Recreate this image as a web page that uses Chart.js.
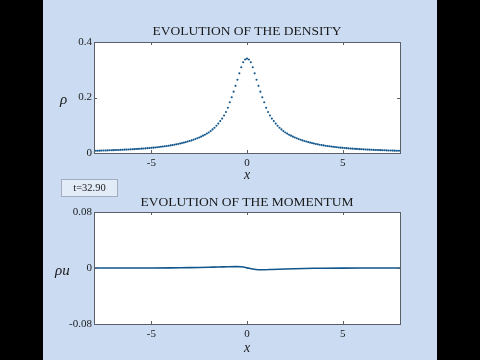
<!DOCTYPE html>
<html>
<head>
<meta charset="utf-8">
<script src="https://cdn.jsdelivr.net/npm/chart.js@4/dist/chart.umd.min.js"></script>
<style>
body { margin:0; background:#000; width:480px; height:360px; overflow:hidden; }
#fig { position:absolute; left:43px; top:0; width:394px; height:360px; background:#cbdcf2; font-family:"Liberation Serif", serif; color:#1a1a1a; }
canvas { position:absolute; left:0; }
.ttl { position:absolute; left:51px; width:306px; text-align:center; font-size:13.5px; line-height:16px; white-space:nowrap; }
.ylab { position:absolute; font-style:italic; font-size:15px; line-height:16px; }
#tbox { position:absolute; left:18px; top:179px; width:55px; height:16px; border:1px solid #a3adbd; background:#e2ebf8; font-size:10.5px; line-height:16px; text-align:center; }
</style>
</head>
<body>
<div id="fig">
  <canvas id="dens" width="394" height="185" style="top:0"></canvas>
  <canvas id="mom" width="394" height="180" style="top:180px"></canvas>
  <div class="ttl" style="top:23px">EVOLUTION OF THE DENSITY</div>
  <div class="ttl" style="top:194px">EVOLUTION OF THE MOMENTUM</div>
  <div class="ylab" style="left:17px;top:91px">ρ</div>
  <div class="ylab" style="left:12px;top:262px">ρu</div>
  <div id="tbox">t=32.90</div>
</div>
<script>
// density samples, x = -8 .. 8
const densX = [
  -8.0,-7.9,-7.8,-7.7,-7.6,-7.5,-7.4,-7.3,-7.2,-7.1,
  -7.0,-6.9,-6.8,-6.7,-6.6,-6.5,-6.4,-6.3,-6.2,-6.1,
  -6.0,-5.9,-5.8,-5.7,-5.6,-5.5,-5.4,-5.3,-5.2,-5.1,
  -5.0,-4.9,-4.8,-4.7,-4.6,-4.5,-4.4,-4.3,-4.2,-4.1,
  -4.0,-3.9,-3.8,-3.7,-3.6,-3.5,-3.4,-3.3,-3.2,-3.1,
  -3.0,-2.9,-2.8,-2.7,-2.6,-2.5,-2.4,-2.3,-2.2,-2.1,
  -2.0,-1.9,-1.8,-1.7,-1.6,-1.5,-1.4,-1.3,-1.2,-1.1,
  -1.0,-0.9,-0.8,-0.7,-0.6,-0.5,-0.4,-0.3,-0.2,-0.1,
  0.0,
  0.1,0.2,0.3,0.4,0.5,0.6,0.7,0.8,0.9,1.0,
  1.1,1.2,1.3,1.4,1.5,1.6,1.7,1.8,1.9,2.0,
  2.1,2.2,2.3,2.4,2.5,2.6,2.7,2.8,2.9,3.0,
  3.1,3.2,3.3,3.4,3.5,3.6,3.7,3.8,3.9,4.0,
  4.1,4.2,4.3,4.4,4.5,4.6,4.7,4.8,4.9,5.0,
  5.1,5.2,5.3,5.4,5.5,5.6,5.7,5.8,5.9,6.0,
  6.1,6.2,6.3,6.4,6.5,6.6,6.7,6.8,6.9,7.0,
  7.1,7.2,7.3,7.4,7.5,7.6,7.7,7.8,7.9,8.0
];
const densY = [
  0.0080,0.0081,0.0083,0.0085,0.0087,0.0090,0.0092,0.0094,0.0097,0.0099,
  0.0102,0.0104,0.0107,0.0110,0.0113,0.0117,0.0120,0.0123,0.0127,0.0131,
  0.0135,0.0139,0.0143,0.0148,0.0152,0.0157,0.0163,0.0168,0.0174,0.0180,
  0.0186,0.0193,0.0200,0.0208,0.0215,0.0224,0.0233,0.0242,0.0252,0.0262,
  0.0273,0.0285,0.0298,0.0311,0.0325,0.0341,0.0357,0.0375,0.0393,0.0414,
  0.0432,0.0454,0.0477,0.0502,0.0530,0.0560,0.0590,0.0625,0.0660,0.0700,
  0.0740,0.0790,0.0850,0.0910,0.0980,0.1060,0.1150,0.1240,0.1350,0.1480,
  0.1630,0.1830,0.2010,0.2210,0.2420,0.2640,0.2870,0.3090,0.3270,0.3370,
  0.3400,
  0.3370,0.3270,0.3090,0.2870,0.2640,0.2420,0.2210,0.2010,0.1830,0.1630,
  0.1480,0.1350,0.1240,0.1150,0.1060,0.0980,0.0910,0.0850,0.0790,0.0740,
  0.0700,0.0660,0.0625,0.0590,0.0560,0.0530,0.0502,0.0477,0.0454,0.0432,
  0.0414,0.0393,0.0375,0.0357,0.0341,0.0325,0.0311,0.0298,0.0285,0.0273,
  0.0262,0.0252,0.0242,0.0233,0.0224,0.0215,0.0208,0.0200,0.0193,0.0186,
  0.0180,0.0174,0.0168,0.0163,0.0157,0.0152,0.0148,0.0143,0.0139,0.0135,
  0.0131,0.0127,0.0123,0.0120,0.0117,0.0113,0.0110,0.0107,0.0104,0.0102,
  0.0099,0.0097,0.0094,0.0092,0.0090,0.0087,0.0085,0.0083,0.0081,0.0080
];
// momentum samples
const momX = [-8,-6,-4,-3,-2,-1.5,-1,-0.6,-0.3,0,0.3,0.6,0.9,1.3,2,3,4,6,8];
const momY = [0,0,0.0002,0.0005,0.001,0.0014,0.0018,0.002,0.0017,0.0002,-0.0015,-0.0024,-0.0025,-0.0021,-0.0014,-0.0007,-0.0003,-0.0001,0];

const xTicks = [-5, 0, 5];
const densTicks = [0, 0.2, 0.4];
const momTicks = [-0.08, 0, 0.08];

const lineColor = '#11568c';
const axisColor = '#5b6068';

const framePlugin = {
  id: 'frame',
  beforeDraw(chart) {
    const a = chart.chartArea, ctx = chart.ctx;
    ctx.save();
    ctx.fillStyle = '#ffffff';
    ctx.fillRect(a.left, a.top, a.right - a.left, a.bottom - a.top);
    ctx.restore();
  },
  afterDraw(chart) {
    const a = chart.chartArea, ctx = chart.ctx;
    const xs = chart.scales.x, ys = chart.scales.y;
    ctx.save();
    ctx.strokeStyle = axisColor;
    ctx.lineWidth = 1;
    ctx.strokeRect(Math.round(a.left) + 0.5, Math.round(a.top) + 0.5,
                   Math.round(a.right - a.left), Math.round(a.bottom - a.top));
    ctx.beginPath();
    xTicks.forEach(v => {
      const px = Math.round(xs.getPixelForValue(v)) + 0.5;
      ctx.moveTo(px, a.bottom); ctx.lineTo(px, a.bottom - 3);
      ctx.moveTo(px, a.top); ctx.lineTo(px, a.top + 3);
    });
    ys.ticks.forEach(t => {
      const py = Math.round(ys.getPixelForValue(t.value)) + 0.5;
      ctx.moveTo(a.left, py); ctx.lineTo(a.left + 3, py);
      ctx.moveTo(a.right, py); ctx.lineTo(a.right - 3, py);
    });
    ctx.stroke();
    ctx.restore();
  }
};

function makeChart(id, dataset, yMin, yMax, yTicks, padTop, xAxisH, titlePad) {
  return new Chart(document.getElementById(id), {
    type: 'scatter',
    data: { datasets: [dataset] },
    plugins: [framePlugin],
    options: {
      responsive: false,
      animation: false,
      layout: { padding: { top: padTop, right: 37, left: 0, bottom: 0 } },
      plugins: { legend: { display: false }, tooltip: { enabled: false } },
      scales: {
        x: {
          type: 'linear', min: -8, max: 8,
          grid: { display: false, drawTicks: false }, border: { display: false },
          afterBuildTicks: s => { s.ticks = xTicks.map(v => ({ value: v })); },
          afterFit: s => { s.height = xAxisH; },
          ticks: { color: '#1a1a1a', padding: 4, font: { family: 'Liberation Serif', size: 11 } },
          title: { display: true, text: 'x', color: '#1a1a1a', padding: { top: 0, bottom: titlePad },
                   font: { family: 'Liberation Serif', size: 14, style: 'italic' } }
        },
        y: {
          type: 'linear', min: yMin, max: yMax,
          grid: { display: false, drawTicks: false }, border: { display: false },
          afterBuildTicks: s => { s.ticks = yTicks.map(v => ({ value: v })); },
          afterFit: s => { s.width = 51; },
          ticks: { color: '#1a1a1a', padding: 2, font: { family: 'Liberation Serif', size: 11 },
                   callback: v => String(v) }
        }
      }
    }
  });
}

makeChart('dens', {
  data: densX.map((x, i) => ({ x: x, y: densY[i] })),
  showLine: false,
  pointRadius: 1.05,
  pointBorderWidth: 0,
  pointBackgroundColor: lineColor
}, 0, 0.4, densTicks, 42, 32, 1);

makeChart('mom', {
  data: momX.map((x, i) => ({ x: x, y: momY[i] })),
  showLine: true,
  borderColor: lineColor,
  borderWidth: 1.6,
  tension: 0.3,
  pointRadius: 0
}, -0.08, 0.08, momTicks, 32, 36, 3);
</script>
</body>
</html>
